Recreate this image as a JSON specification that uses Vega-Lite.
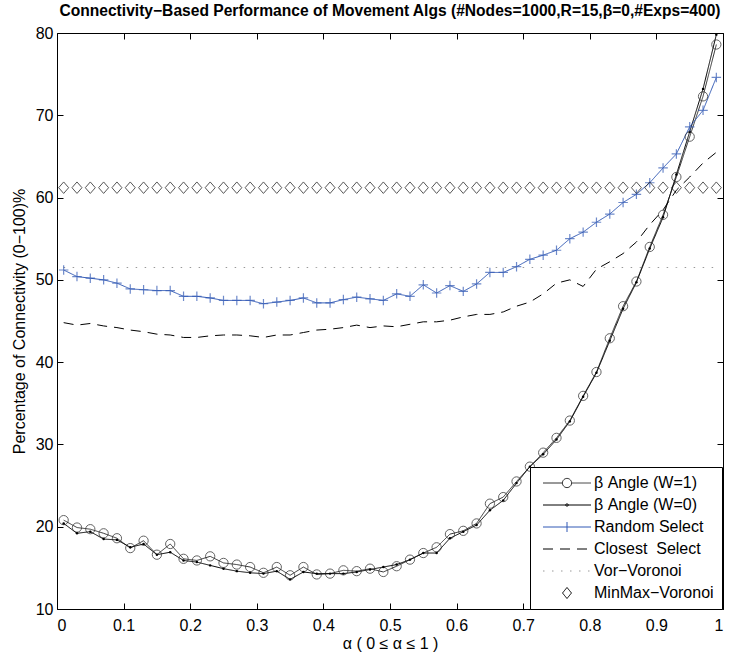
{
  "$schema": "https://vega.github.io/schema/vega-lite/v6.json",
  "width": 666,
  "height": 576,
  "autosize": {"type": "none"},
  "padding": {"left": 57, "top": 33, "right": 10, "bottom": 48},
  "background": "white",
  "title": {
    "text": "Connectivity−Based Performance of Movement Algs (#Nodes=1000,R=15,β=0,#Exps=400)",
    "font": "Liberation Sans",
    "fontSize": 15.6,
    "fontWeight": "bold",
    "color": "black",
    "anchor": "middle",
    "frame": "group",
    "offset": 5
  },
  "data": {
    "values": [
      {"s": "β Angle (W=1)", "a": 0.01, "v": 20.8}, {"s": "β Angle (W=1)", "a": 0.03, "v": 19.9},
      {"s": "β Angle (W=1)", "a": 0.05, "v": 19.7}, {"s": "β Angle (W=1)", "a": 0.07, "v": 19.2},
      {"s": "β Angle (W=1)", "a": 0.09, "v": 18.6}, {"s": "β Angle (W=1)", "a": 0.11, "v": 17.4},
      {"s": "β Angle (W=1)", "a": 0.13, "v": 18.3}, {"s": "β Angle (W=1)", "a": 0.15, "v": 16.6},
      {"s": "β Angle (W=1)", "a": 0.17, "v": 17.9}, {"s": "β Angle (W=1)", "a": 0.19, "v": 16.1},
      {"s": "β Angle (W=1)", "a": 0.21, "v": 15.9}, {"s": "β Angle (W=1)", "a": 0.23, "v": 16.4},
      {"s": "β Angle (W=1)", "a": 0.25, "v": 15.6}, {"s": "β Angle (W=1)", "a": 0.27, "v": 15.4},
      {"s": "β Angle (W=1)", "a": 0.29, "v": 15.1}, {"s": "β Angle (W=1)", "a": 0.31, "v": 14.4},
      {"s": "β Angle (W=1)", "a": 0.33, "v": 15.1}, {"s": "β Angle (W=1)", "a": 0.35, "v": 14.1},
      {"s": "β Angle (W=1)", "a": 0.37, "v": 15.1}, {"s": "β Angle (W=1)", "a": 0.39, "v": 14.2},
      {"s": "β Angle (W=1)", "a": 0.41, "v": 14.3}, {"s": "β Angle (W=1)", "a": 0.43, "v": 14.7},
      {"s": "β Angle (W=1)", "a": 0.45, "v": 14.6}, {"s": "β Angle (W=1)", "a": 0.47, "v": 14.9},
      {"s": "β Angle (W=1)", "a": 0.49, "v": 14.5}, {"s": "β Angle (W=1)", "a": 0.51, "v": 15.2},
      {"s": "β Angle (W=1)", "a": 0.53, "v": 16.0}, {"s": "β Angle (W=1)", "a": 0.55, "v": 16.8},
      {"s": "β Angle (W=1)", "a": 0.57, "v": 17.5}, {"s": "β Angle (W=1)", "a": 0.59, "v": 19.1},
      {"s": "β Angle (W=1)", "a": 0.61, "v": 19.5}, {"s": "β Angle (W=1)", "a": 0.63, "v": 20.4},
      {"s": "β Angle (W=1)", "a": 0.65, "v": 22.8}, {"s": "β Angle (W=1)", "a": 0.67, "v": 23.6},
      {"s": "β Angle (W=1)", "a": 0.69, "v": 25.5}, {"s": "β Angle (W=1)", "a": 0.71, "v": 27.3},
      {"s": "β Angle (W=1)", "a": 0.73, "v": 29.0}, {"s": "β Angle (W=1)", "a": 0.75, "v": 30.8},
      {"s": "β Angle (W=1)", "a": 0.77, "v": 32.9}, {"s": "β Angle (W=1)", "a": 0.79, "v": 35.9},
      {"s": "β Angle (W=1)", "a": 0.81, "v": 38.8}, {"s": "β Angle (W=1)", "a": 0.83, "v": 42.9},
      {"s": "β Angle (W=1)", "a": 0.85, "v": 46.8}, {"s": "β Angle (W=1)", "a": 0.87, "v": 49.8},
      {"s": "β Angle (W=1)", "a": 0.89, "v": 54.0}, {"s": "β Angle (W=1)", "a": 0.91, "v": 57.9},
      {"s": "β Angle (W=1)", "a": 0.93, "v": 62.5}, {"s": "β Angle (W=1)", "a": 0.95, "v": 67.4},
      {"s": "β Angle (W=1)", "a": 0.97, "v": 72.3}, {"s": "β Angle (W=1)", "a": 0.99, "v": 78.6},

      {"s": "β Angle (W=0)", "a": 0.01, "v": 20.4}, {"s": "β Angle (W=0)", "a": 0.03, "v": 19.2},
      {"s": "β Angle (W=0)", "a": 0.05, "v": 19.4}, {"s": "β Angle (W=0)", "a": 0.07, "v": 18.5},
      {"s": "β Angle (W=0)", "a": 0.09, "v": 18.4}, {"s": "β Angle (W=0)", "a": 0.11, "v": 17.5},
      {"s": "β Angle (W=0)", "a": 0.13, "v": 17.9}, {"s": "β Angle (W=0)", "a": 0.15, "v": 16.6},
      {"s": "β Angle (W=0)", "a": 0.17, "v": 16.9}, {"s": "β Angle (W=0)", "a": 0.19, "v": 15.9},
      {"s": "β Angle (W=0)", "a": 0.21, "v": 15.7}, {"s": "β Angle (W=0)", "a": 0.23, "v": 15.3},
      {"s": "β Angle (W=0)", "a": 0.25, "v": 14.9}, {"s": "β Angle (W=0)", "a": 0.27, "v": 14.6},
      {"s": "β Angle (W=0)", "a": 0.29, "v": 14.4}, {"s": "β Angle (W=0)", "a": 0.31, "v": 14.3},
      {"s": "β Angle (W=0)", "a": 0.33, "v": 14.6}, {"s": "β Angle (W=0)", "a": 0.35, "v": 13.6},
      {"s": "β Angle (W=0)", "a": 0.37, "v": 14.5}, {"s": "β Angle (W=0)", "a": 0.39, "v": 14.3},
      {"s": "β Angle (W=0)", "a": 0.41, "v": 14.3}, {"s": "β Angle (W=0)", "a": 0.43, "v": 14.3},
      {"s": "β Angle (W=0)", "a": 0.45, "v": 14.5}, {"s": "β Angle (W=0)", "a": 0.47, "v": 14.8},
      {"s": "β Angle (W=0)", "a": 0.49, "v": 15.1}, {"s": "β Angle (W=0)", "a": 0.51, "v": 15.4},
      {"s": "β Angle (W=0)", "a": 0.53, "v": 16.0}, {"s": "β Angle (W=0)", "a": 0.55, "v": 16.8},
      {"s": "β Angle (W=0)", "a": 0.57, "v": 16.8}, {"s": "β Angle (W=0)", "a": 0.59, "v": 18.6},
      {"s": "β Angle (W=0)", "a": 0.61, "v": 19.4}, {"s": "β Angle (W=0)", "a": 0.63, "v": 20.2},
      {"s": "β Angle (W=0)", "a": 0.65, "v": 22.0}, {"s": "β Angle (W=0)", "a": 0.67, "v": 23.2},
      {"s": "β Angle (W=0)", "a": 0.69, "v": 25.3}, {"s": "β Angle (W=0)", "a": 0.71, "v": 27.3},
      {"s": "β Angle (W=0)", "a": 0.73, "v": 28.8}, {"s": "β Angle (W=0)", "a": 0.75, "v": 30.6},
      {"s": "β Angle (W=0)", "a": 0.77, "v": 32.8}, {"s": "β Angle (W=0)", "a": 0.79, "v": 35.8},
      {"s": "β Angle (W=0)", "a": 0.81, "v": 38.7}, {"s": "β Angle (W=0)", "a": 0.83, "v": 42.6},
      {"s": "β Angle (W=0)", "a": 0.85, "v": 46.5}, {"s": "β Angle (W=0)", "a": 0.87, "v": 49.7},
      {"s": "β Angle (W=0)", "a": 0.89, "v": 53.8}, {"s": "β Angle (W=0)", "a": 0.91, "v": 57.6},
      {"s": "β Angle (W=0)", "a": 0.93, "v": 62.8}, {"s": "β Angle (W=0)", "a": 0.95, "v": 68.0},
      {"s": "β Angle (W=0)", "a": 0.97, "v": 73.2}, {"s": "β Angle (W=0)", "a": 0.99, "v": 79.8},

      {"s": "Random Select", "a": 0.01, "v": 51.2}, {"s": "Random Select", "a": 0.03, "v": 50.4},
      {"s": "Random Select", "a": 0.05, "v": 50.2}, {"s": "Random Select", "a": 0.07, "v": 50.0},
      {"s": "Random Select", "a": 0.09, "v": 49.6}, {"s": "Random Select", "a": 0.11, "v": 48.9},
      {"s": "Random Select", "a": 0.13, "v": 48.8}, {"s": "Random Select", "a": 0.15, "v": 48.7},
      {"s": "Random Select", "a": 0.17, "v": 48.7}, {"s": "Random Select", "a": 0.19, "v": 48.0},
      {"s": "Random Select", "a": 0.21, "v": 48.0}, {"s": "Random Select", "a": 0.23, "v": 47.8},
      {"s": "Random Select", "a": 0.25, "v": 47.5}, {"s": "Random Select", "a": 0.27, "v": 47.5},
      {"s": "Random Select", "a": 0.29, "v": 47.5}, {"s": "Random Select", "a": 0.31, "v": 47.1},
      {"s": "Random Select", "a": 0.33, "v": 47.3}, {"s": "Random Select", "a": 0.35, "v": 47.5},
      {"s": "Random Select", "a": 0.37, "v": 47.8}, {"s": "Random Select", "a": 0.39, "v": 47.2},
      {"s": "Random Select", "a": 0.41, "v": 47.2}, {"s": "Random Select", "a": 0.43, "v": 47.6},
      {"s": "Random Select", "a": 0.45, "v": 47.9}, {"s": "Random Select", "a": 0.47, "v": 47.7},
      {"s": "Random Select", "a": 0.49, "v": 47.5}, {"s": "Random Select", "a": 0.51, "v": 48.3},
      {"s": "Random Select", "a": 0.53, "v": 48.0}, {"s": "Random Select", "a": 0.55, "v": 49.4},
      {"s": "Random Select", "a": 0.57, "v": 48.4}, {"s": "Random Select", "a": 0.59, "v": 49.3},
      {"s": "Random Select", "a": 0.61, "v": 48.6}, {"s": "Random Select", "a": 0.63, "v": 49.5},
      {"s": "Random Select", "a": 0.65, "v": 50.9}, {"s": "Random Select", "a": 0.67, "v": 50.9},
      {"s": "Random Select", "a": 0.69, "v": 51.6}, {"s": "Random Select", "a": 0.71, "v": 52.5},
      {"s": "Random Select", "a": 0.73, "v": 53.0}, {"s": "Random Select", "a": 0.75, "v": 53.6},
      {"s": "Random Select", "a": 0.77, "v": 55.0}, {"s": "Random Select", "a": 0.79, "v": 55.8},
      {"s": "Random Select", "a": 0.81, "v": 57.0}, {"s": "Random Select", "a": 0.83, "v": 58.0},
      {"s": "Random Select", "a": 0.85, "v": 59.4}, {"s": "Random Select", "a": 0.87, "v": 60.4},
      {"s": "Random Select", "a": 0.89, "v": 61.8}, {"s": "Random Select", "a": 0.91, "v": 63.6},
      {"s": "Random Select", "a": 0.93, "v": 65.3}, {"s": "Random Select", "a": 0.95, "v": 68.6},
      {"s": "Random Select", "a": 0.97, "v": 70.6}, {"s": "Random Select", "a": 0.99, "v": 74.6},

      {"s": "Closest\u00a0 Select", "a": 0.01, "v": 44.8}, {"s": "Closest\u00a0 Select", "a": 0.03, "v": 44.5},
      {"s": "Closest\u00a0 Select", "a": 0.05, "v": 44.7}, {"s": "Closest\u00a0 Select", "a": 0.07, "v": 44.4},
      {"s": "Closest\u00a0 Select", "a": 0.09, "v": 44.2}, {"s": "Closest\u00a0 Select", "a": 0.11, "v": 43.9},
      {"s": "Closest\u00a0 Select", "a": 0.13, "v": 43.7}, {"s": "Closest\u00a0 Select", "a": 0.15, "v": 43.4},
      {"s": "Closest\u00a0 Select", "a": 0.17, "v": 43.3}, {"s": "Closest\u00a0 Select", "a": 0.19, "v": 43.0},
      {"s": "Closest\u00a0 Select", "a": 0.21, "v": 43.0}, {"s": "Closest\u00a0 Select", "a": 0.23, "v": 43.2},
      {"s": "Closest\u00a0 Select", "a": 0.25, "v": 43.3}, {"s": "Closest\u00a0 Select", "a": 0.27, "v": 43.3},
      {"s": "Closest\u00a0 Select", "a": 0.29, "v": 43.2}, {"s": "Closest\u00a0 Select", "a": 0.31, "v": 43.0},
      {"s": "Closest\u00a0 Select", "a": 0.33, "v": 43.3}, {"s": "Closest\u00a0 Select", "a": 0.35, "v": 43.3},
      {"s": "Closest\u00a0 Select", "a": 0.37, "v": 43.6}, {"s": "Closest\u00a0 Select", "a": 0.39, "v": 43.9},
      {"s": "Closest\u00a0 Select", "a": 0.41, "v": 44.0}, {"s": "Closest\u00a0 Select", "a": 0.43, "v": 44.2},
      {"s": "Closest\u00a0 Select", "a": 0.45, "v": 44.5}, {"s": "Closest\u00a0 Select", "a": 0.47, "v": 44.2},
      {"s": "Closest\u00a0 Select", "a": 0.49, "v": 44.4}, {"s": "Closest\u00a0 Select", "a": 0.51, "v": 44.3},
      {"s": "Closest\u00a0 Select", "a": 0.53, "v": 44.6}, {"s": "Closest\u00a0 Select", "a": 0.55, "v": 44.9},
      {"s": "Closest\u00a0 Select", "a": 0.57, "v": 44.9}, {"s": "Closest\u00a0 Select", "a": 0.59, "v": 45.1},
      {"s": "Closest\u00a0 Select", "a": 0.61, "v": 45.5}, {"s": "Closest\u00a0 Select", "a": 0.63, "v": 45.8},
      {"s": "Closest\u00a0 Select", "a": 0.65, "v": 45.8}, {"s": "Closest\u00a0 Select", "a": 0.67, "v": 46.1},
      {"s": "Closest\u00a0 Select", "a": 0.69, "v": 46.8}, {"s": "Closest\u00a0 Select", "a": 0.71, "v": 47.3},
      {"s": "Closest\u00a0 Select", "a": 0.73, "v": 48.3}, {"s": "Closest\u00a0 Select", "a": 0.75, "v": 49.6},
      {"s": "Closest\u00a0 Select", "a": 0.77, "v": 50.0}, {"s": "Closest\u00a0 Select", "a": 0.79, "v": 49.2},
      {"s": "Closest\u00a0 Select", "a": 0.81, "v": 51.3}, {"s": "Closest\u00a0 Select", "a": 0.83, "v": 52.2},
      {"s": "Closest\u00a0 Select", "a": 0.85, "v": 53.2}, {"s": "Closest\u00a0 Select", "a": 0.87, "v": 54.6},
      {"s": "Closest\u00a0 Select", "a": 0.89, "v": 56.7}, {"s": "Closest\u00a0 Select", "a": 0.91, "v": 58.5},
      {"s": "Closest\u00a0 Select", "a": 0.93, "v": 60.9}, {"s": "Closest\u00a0 Select", "a": 0.95, "v": 62.5},
      {"s": "Closest\u00a0 Select", "a": 0.97, "v": 64.2}, {"s": "Closest\u00a0 Select", "a": 0.99, "v": 65.5},

      {"s": "Vor−Voronoi", "a": 0.01, "v": 51.5}, {"s": "Vor−Voronoi", "a": 0.03, "v": 51.5},
      {"s": "Vor−Voronoi", "a": 0.05, "v": 51.5}, {"s": "Vor−Voronoi", "a": 0.07, "v": 51.5},
      {"s": "Vor−Voronoi", "a": 0.09, "v": 51.5}, {"s": "Vor−Voronoi", "a": 0.11, "v": 51.5},
      {"s": "Vor−Voronoi", "a": 0.13, "v": 51.5}, {"s": "Vor−Voronoi", "a": 0.15, "v": 51.5},
      {"s": "Vor−Voronoi", "a": 0.17, "v": 51.5}, {"s": "Vor−Voronoi", "a": 0.19, "v": 51.5},
      {"s": "Vor−Voronoi", "a": 0.21, "v": 51.5}, {"s": "Vor−Voronoi", "a": 0.23, "v": 51.5},
      {"s": "Vor−Voronoi", "a": 0.25, "v": 51.5}, {"s": "Vor−Voronoi", "a": 0.27, "v": 51.5},
      {"s": "Vor−Voronoi", "a": 0.29, "v": 51.5}, {"s": "Vor−Voronoi", "a": 0.31, "v": 51.5},
      {"s": "Vor−Voronoi", "a": 0.33, "v": 51.5}, {"s": "Vor−Voronoi", "a": 0.35, "v": 51.5},
      {"s": "Vor−Voronoi", "a": 0.37, "v": 51.5}, {"s": "Vor−Voronoi", "a": 0.39, "v": 51.5},
      {"s": "Vor−Voronoi", "a": 0.41, "v": 51.5}, {"s": "Vor−Voronoi", "a": 0.43, "v": 51.5},
      {"s": "Vor−Voronoi", "a": 0.45, "v": 51.5}, {"s": "Vor−Voronoi", "a": 0.47, "v": 51.5},
      {"s": "Vor−Voronoi", "a": 0.49, "v": 51.5}, {"s": "Vor−Voronoi", "a": 0.51, "v": 51.5},
      {"s": "Vor−Voronoi", "a": 0.53, "v": 51.5}, {"s": "Vor−Voronoi", "a": 0.55, "v": 51.5},
      {"s": "Vor−Voronoi", "a": 0.57, "v": 51.5}, {"s": "Vor−Voronoi", "a": 0.59, "v": 51.5},
      {"s": "Vor−Voronoi", "a": 0.61, "v": 51.5}, {"s": "Vor−Voronoi", "a": 0.63, "v": 51.5},
      {"s": "Vor−Voronoi", "a": 0.65, "v": 51.5}, {"s": "Vor−Voronoi", "a": 0.67, "v": 51.5},
      {"s": "Vor−Voronoi", "a": 0.69, "v": 51.5}, {"s": "Vor−Voronoi", "a": 0.71, "v": 51.5},
      {"s": "Vor−Voronoi", "a": 0.73, "v": 51.5}, {"s": "Vor−Voronoi", "a": 0.75, "v": 51.5},
      {"s": "Vor−Voronoi", "a": 0.77, "v": 51.5}, {"s": "Vor−Voronoi", "a": 0.79, "v": 51.5},
      {"s": "Vor−Voronoi", "a": 0.81, "v": 51.5}, {"s": "Vor−Voronoi", "a": 0.83, "v": 51.5},
      {"s": "Vor−Voronoi", "a": 0.85, "v": 51.5}, {"s": "Vor−Voronoi", "a": 0.87, "v": 51.5},
      {"s": "Vor−Voronoi", "a": 0.89, "v": 51.5}, {"s": "Vor−Voronoi", "a": 0.91, "v": 51.5},
      {"s": "Vor−Voronoi", "a": 0.93, "v": 51.5}, {"s": "Vor−Voronoi", "a": 0.95, "v": 51.5},
      {"s": "Vor−Voronoi", "a": 0.97, "v": 51.5}, {"s": "Vor−Voronoi", "a": 0.99, "v": 51.5},

      {"s": "MinMax−Voronoi", "a": 0.01, "v": 61.2}, {"s": "MinMax−Voronoi", "a": 0.03, "v": 61.2},
      {"s": "MinMax−Voronoi", "a": 0.05, "v": 61.2}, {"s": "MinMax−Voronoi", "a": 0.07, "v": 61.2},
      {"s": "MinMax−Voronoi", "a": 0.09, "v": 61.2}, {"s": "MinMax−Voronoi", "a": 0.11, "v": 61.2},
      {"s": "MinMax−Voronoi", "a": 0.13, "v": 61.2}, {"s": "MinMax−Voronoi", "a": 0.15, "v": 61.2},
      {"s": "MinMax−Voronoi", "a": 0.17, "v": 61.2}, {"s": "MinMax−Voronoi", "a": 0.19, "v": 61.2},
      {"s": "MinMax−Voronoi", "a": 0.21, "v": 61.2}, {"s": "MinMax−Voronoi", "a": 0.23, "v": 61.2},
      {"s": "MinMax−Voronoi", "a": 0.25, "v": 61.2}, {"s": "MinMax−Voronoi", "a": 0.27, "v": 61.2},
      {"s": "MinMax−Voronoi", "a": 0.29, "v": 61.2}, {"s": "MinMax−Voronoi", "a": 0.31, "v": 61.2},
      {"s": "MinMax−Voronoi", "a": 0.33, "v": 61.2}, {"s": "MinMax−Voronoi", "a": 0.35, "v": 61.2},
      {"s": "MinMax−Voronoi", "a": 0.37, "v": 61.2}, {"s": "MinMax−Voronoi", "a": 0.39, "v": 61.2},
      {"s": "MinMax−Voronoi", "a": 0.41, "v": 61.2}, {"s": "MinMax−Voronoi", "a": 0.43, "v": 61.2},
      {"s": "MinMax−Voronoi", "a": 0.45, "v": 61.2}, {"s": "MinMax−Voronoi", "a": 0.47, "v": 61.2},
      {"s": "MinMax−Voronoi", "a": 0.49, "v": 61.2}, {"s": "MinMax−Voronoi", "a": 0.51, "v": 61.2},
      {"s": "MinMax−Voronoi", "a": 0.53, "v": 61.2}, {"s": "MinMax−Voronoi", "a": 0.55, "v": 61.2},
      {"s": "MinMax−Voronoi", "a": 0.57, "v": 61.2}, {"s": "MinMax−Voronoi", "a": 0.59, "v": 61.2},
      {"s": "MinMax−Voronoi", "a": 0.61, "v": 61.2}, {"s": "MinMax−Voronoi", "a": 0.63, "v": 61.2},
      {"s": "MinMax−Voronoi", "a": 0.65, "v": 61.2}, {"s": "MinMax−Voronoi", "a": 0.67, "v": 61.2},
      {"s": "MinMax−Voronoi", "a": 0.69, "v": 61.2}, {"s": "MinMax−Voronoi", "a": 0.71, "v": 61.2},
      {"s": "MinMax−Voronoi", "a": 0.73, "v": 61.2}, {"s": "MinMax−Voronoi", "a": 0.75, "v": 61.2},
      {"s": "MinMax−Voronoi", "a": 0.77, "v": 61.2}, {"s": "MinMax−Voronoi", "a": 0.79, "v": 61.2},
      {"s": "MinMax−Voronoi", "a": 0.81, "v": 61.2}, {"s": "MinMax−Voronoi", "a": 0.83, "v": 61.2},
      {"s": "MinMax−Voronoi", "a": 0.85, "v": 61.2}, {"s": "MinMax−Voronoi", "a": 0.87, "v": 61.2},
      {"s": "MinMax−Voronoi", "a": 0.89, "v": 61.2}, {"s": "MinMax−Voronoi", "a": 0.91, "v": 61.2},
      {"s": "MinMax−Voronoi", "a": 0.93, "v": 61.2}, {"s": "MinMax−Voronoi", "a": 0.95, "v": 61.2},
      {"s": "MinMax−Voronoi", "a": 0.97, "v": 61.2}, {"s": "MinMax−Voronoi", "a": 0.99, "v": 61.2}
    ]
  },
  "resolve": {"axis": {"x": "independent", "y": "independent"}},
  "layer": [
    {
      "transform": [{"filter": "datum.s !== 'MinMax−Voronoi'"}],
      "mark": {"type": "line", "strokeWidth": 1, "interpolate": "linear"},
      "encoding": {
        "x": {
          "field": "a", "type": "quantitative",
          "scale": {"domain": [0, 1], "nice": false, "zero": false},
          "axis": {
            "orient": "bottom",
            "values": [0, 0.1, 0.2, 0.3, 0.4, 0.5, 0.6, 0.7, 0.8, 0.9, 1],
            "format": "~g",
            "labelPadding": 14,
            "title": "α ( 0 ≤ α ≤ 1 )",
            "titlePadding": 2
          }
        },
        "y": {
          "field": "v", "type": "quantitative",
          "scale": {"domain": [10, 80], "nice": false, "zero": false},
          "axis": {
            "orient": "left",
            "values": [10, 20, 30, 40, 50, 60, 70, 80],
            "labelPadding": 10,
            "title": "Percentage of Connectivity (0−100)%",
            "titlePadding": 8
          }
        },
        "stroke": {
          "field": "s", "type": "nominal",
          "scale": {
            "domain": ["β Angle (W=1)", "β Angle (W=0)", "Random Select", "Closest\u00a0 Select", "Vor−Voronoi", "MinMax−Voronoi"],
            "range": ["#333333", "#000000", "#3159b5", "#000000", "#999999", "#000000"]
          },
          "legend": {
            "title": null,
            "orient": "none",
            "legendX": 473,
            "legendY": 434,
            "padding": 8,
            "fillColor": "white",
            "strokeColor": "black",
            "labelFont": "Liberation Sans",
            "labelFontSize": 16,
            "labelColor": "black",
            "symbolSize": 100,
            "symbolStrokeWidth": 1,
            "symbolOffset": 21,
            "labelOffset": 19,
            "rowPadding": 6,
            "encode": {
              "legend": {"update": {"strokeWidth": {"value": 1}}},
              "symbols": {
                "update": {
                  "shape": {"signal": "indexof(datum.value, 'W=1') >= 0 ? 'M-4.8,0H-0.92M0.92,0H4.8M0.92,0A0.92,0.92,0,1,1,-0.92,0A0.92,0.92,0,1,1,0.92,0' : indexof(datum.value, 'W=0') >= 0 ? 'M-4.8,0H4.8M0.25,0A0.25,0.25,0,1,1,-0.25,0A0.25,0.25,0,1,1,0.25,0' : indexof(datum.value, 'Random') >= 0 ? 'M-4.8,0H4.8M0,-1V1' : indexof(datum.value, 'MinMax') >= 0 ? 'M-0.9,0L0,-1.1L0.9,0L0,1.1Z' : 'M-4.8,0H4.8'"},
                  "strokeDash": {"signal": "indexof(datum.value, 'Closest') >= 0 ? [10, 8] : indexof(datum.value, 'Vor') === 0 ? [1, 7] : [1, 0]"},
                  "fill": {"value": "transparent"},
                  "opacity": {"value": 1}
                }
              }
            }
          }
        },
        "strokeDash": {
          "field": "s", "type": "nominal",
          "scale": {
            "domain": ["β Angle (W=1)", "β Angle (W=0)", "Random Select", "Closest\u00a0 Select", "Vor−Voronoi", "MinMax−Voronoi"],
            "range": [[1, 0], [1, 0], [1, 0], [10, 7], [1.5, 7.5], [1, 0]]
          },
          "legend": null
        }
      }
    },
    {
      "transform": [{"filter": "datum.s === 'β Angle (W=1)'"}],
      "mark": {"type": "point", "shape": "circle", "size": 86, "filled": false, "stroke": "#222222", "strokeWidth": 1},
      "encoding": {
        "x": {"field": "a", "type": "quantitative", "axis": null},
        "y": {"field": "v", "type": "quantitative", "axis": null}
      }
    },
    {
      "transform": [{"filter": "datum.s === 'β Angle (W=0)'"}],
      "mark": {"type": "point", "shape": "circle", "size": 6, "filled": true, "fill": "#000000", "opacity": 1},
      "encoding": {
        "x": {"field": "a", "type": "quantitative", "axis": null},
        "y": {"field": "v", "type": "quantitative", "axis": null}
      }
    },
    {
      "transform": [{"filter": "datum.s === 'Random Select'"}],
      "mark": {"type": "point", "shape": "M-1,0H1M0,-1V1", "size": 90, "filled": false, "stroke": "#3159b5", "strokeWidth": 1.2},
      "encoding": {
        "x": {"field": "a", "type": "quantitative", "axis": null},
        "y": {"field": "v", "type": "quantitative", "axis": null}
      }
    },
    {
      "transform": [{"filter": "datum.s === 'MinMax−Voronoi'"}],
      "mark": {"type": "point", "shape": "M-0.87,0L0,-1L0.87,0L0,1Z", "size": 132, "filled": false, "stroke": "#111111", "strokeWidth": 1},
      "encoding": {
        "x": {
          "field": "a", "type": "quantitative",
          "axis": {"orient": "top", "values": [0, 0.1, 0.2, 0.3, 0.4, 0.5, 0.6, 0.7, 0.8, 0.9, 1], "labels": false, "title": null}
        },
        "y": {
          "field": "v", "type": "quantitative",
          "axis": {"orient": "right", "values": [10, 20, 30, 40, 50, 60, 70, 80], "labels": false, "title": null}
        }
      }
    }
  ],
  "config": {
    "view": {"stroke": "black", "strokeWidth": 1},
    "axis": {
      "domain": false,
      "grid": false,
      "ticks": true,
      "tickColor": "black",
      "tickWidth": 1,
      "tickSize": -6,
      "labelFont": "Liberation Sans",
      "labelFontSize": 16,
      "labelColor": "black",
      "titleFont": "Liberation Sans",
      "titleFontSize": 16,
      "titleFontWeight": "normal",
      "titleColor": "black"
    }
  }
}
